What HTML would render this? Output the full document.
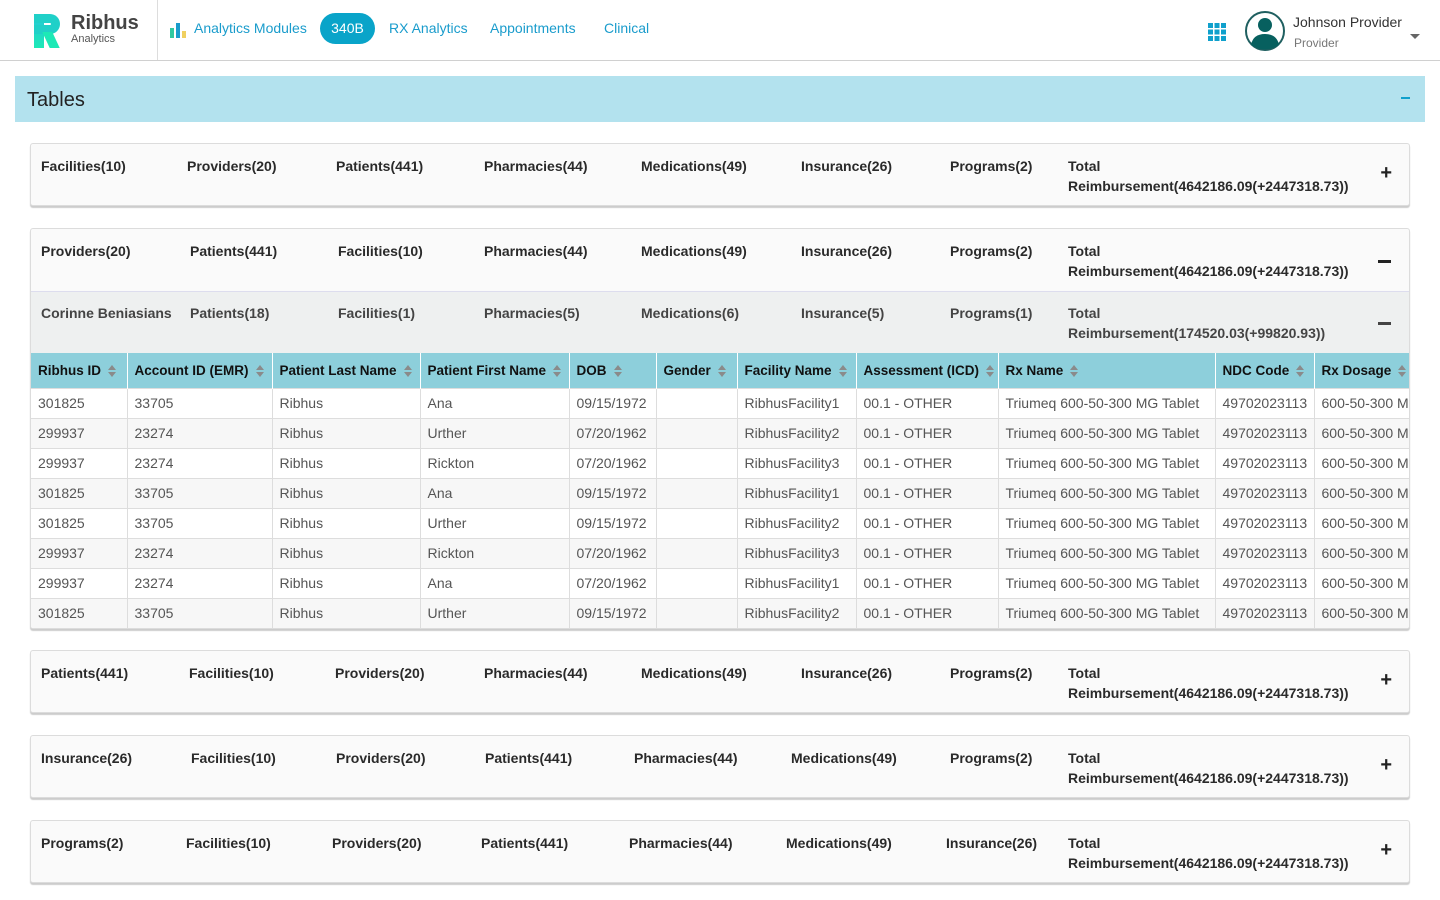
<!DOCTYPE html>
<html><head><meta charset="utf-8"><style>
*{box-sizing:border-box;margin:0;padding:0}
body{width:1440px;height:900px;background:#fff;font-family:"Liberation Sans",sans-serif;position:relative;overflow:hidden;color:#333}
.abs{position:absolute}
.hdr{position:absolute;left:0;top:0;width:1440px;height:61px;border-bottom:1px solid #d0d0d0;background:#fff}
.nav{position:absolute;top:20px;font-size:14px;color:#1a9ccc}
.card{position:absolute;left:30px;width:1380px;background:#fafafa;border:1px solid #dcdcdc;border-radius:3px;box-shadow:0 2px 1px #ccc}
.lb{position:absolute;font-weight:bold;font-size:14px;color:#2a2a2a;line-height:20px;white-space:nowrap}
.pm{position:absolute;right:17px;font-size:20px;font-weight:bold;color:#222}
table{border-collapse:collapse;position:absolute;left:0;top:124px;width:1379px;table-layout:fixed}
th{background:#8dcfdb;height:35px;text-align:left;font-size:13.5px;padding-left:7px;color:#111;border-right:1px solid #fff;white-space:nowrap;overflow:hidden}
th .s{display:inline-block;vertical-align:middle;margin-left:7px;width:9px;height:12px;position:relative}
th .s:before{content:"";position:absolute;left:0;top:0;border:4.5px solid transparent;border-bottom:5px solid #8a8a8a;border-top:none}
th .s:after{content:"";position:absolute;left:0;top:7px;border:4.5px solid transparent;border-top:5px solid #8a8a8a;border-bottom:none}
td{height:30px;font-size:14px;color:#555;padding-left:7px;border-right:1px solid #ddd;border-top:1px solid #ddd;white-space:nowrap;overflow:hidden;background:#fff}
tr.g td{background:#f7f7f7}
</style></head><body>
<div class="hdr">
  <div class="abs" style="left:28px;top:12px;width:40px;height:36px">
    <div class="abs" style="left:6px;top:2px;width:10px;height:34px;background:linear-gradient(#26c6da,#1de9b6)"></div>
    <div class="abs" style="left:6px;top:2px;width:26px;height:20px;border:9px solid #20d0c8;border-left:none;border-radius:0 11px 11px 0"></div>
    <div class="abs" style="left:18px;top:20px;width:10px;height:16px;background:#1de9b6;transform:skewX(25deg)"></div>
  </div>
  <div class="abs" style="left:71px;top:12px;font-size:20px;font-weight:bold;color:#444;line-height:22px">Ribhus</div>
  <div class="abs" style="left:71px;top:33px;font-size:11px;color:#555">Analytics</div>
  <div class="abs" style="left:157px;top:0;width:1px;height:60px;background:#ddd"></div>
  <div class="abs" style="left:170px;top:28px;width:4px;height:10px;background:#30c9a0"></div>
  <div class="abs" style="left:176px;top:23px;width:4px;height:15px;background:#1a9ccc"></div>
  <div class="abs" style="left:182px;top:31px;width:4px;height:7px;background:#f0d060"></div>
  <div class="nav" style="left:194px">Analytics Modules</div>
  <div class="abs" style="left:320px;top:13px;width:55px;height:31px;border-radius:16px;background:#09a4c9;color:#fff;font-size:14px;text-align:center;line-height:31px">340B</div>
  <div class="nav" style="left:389px">RX Analytics</div>
  <div class="nav" style="left:490px">Appointments</div>
  <div class="nav" style="left:604px">Clinical</div>
  <svg class="abs" style="left:1208px;top:23px" width="18" height="18"><g fill="#0fa0cc"><rect x="0" y="0" width="5" height="5"/><rect x="6.5" y="0" width="5" height="5"/><rect x="13" y="0" width="5" height="5"/><rect x="0" y="6.5" width="5" height="5"/><rect x="6.5" y="6.5" width="5" height="5"/><rect x="13" y="6.5" width="5" height="5"/><rect x="0" y="13" width="5" height="5"/><rect x="6.5" y="13" width="5" height="5"/><rect x="13" y="13" width="5" height="5"/></g></svg>
  <svg class="abs" style="left:1245px;top:10px" width="40" height="42"><circle cx="20" cy="21" r="19" fill="#fff" stroke="#1f5f60" stroke-width="2"/><circle cx="20" cy="15" r="7" fill="#07605f"/><path d="M6 35 Q8 24 20 24 Q32 24 34 35 Q20 44 6 35Z" fill="#07605f"/></svg>
  <div class="abs" style="left:1293px;top:14px;font-size:14px;color:#333">Johnson Provider</div>
  <div class="abs" style="left:1294px;top:36px;font-size:12px;color:#777">Provider</div>
  <div class="abs" style="left:1410px;top:34px;border:5px solid transparent;border-top:5px solid #666"></div>
</div>
<div class="abs" style="left:15px;top:76px;width:1410px;height:46px;background:#b3e2ee"></div>
<div class="abs" style="left:27px;top:89px;font-size:20px;color:#222">Tables</div>
<div class="abs" style="left:1401px;top:97px;width:9px;height:2px;background:#0fa0cc"></div>

<div class="card" style="top:143px;height:63px">
  <div class="lb" style="left:10px;top:12px">Facilities(10)</div><div class="lb" style="left:156px;top:12px">Providers(20)</div><div class="lb" style="left:305px;top:12px">Patients(441)</div><div class="lb" style="left:453px;top:12px">Pharmacies(44)</div><div class="lb" style="left:610px;top:12px">Medications(49)</div><div class="lb" style="left:770px;top:12px">Insurance(26)</div><div class="lb" style="left:919px;top:12px">Programs(2)</div><div class="lb" style="left:1037px;top:12px">Total<br>Reimbursement(4642186.09(+2447318.73))</div><div class="pm" style="top:18px">+</div>
</div>

<div class="card" style="top:228px;height:401px;overflow:hidden">
  <div class="lb" style="left:10px;top:12px">Providers(20)</div><div class="lb" style="left:159px;top:12px">Patients(441)</div><div class="lb" style="left:307px;top:12px">Facilities(10)</div><div class="lb" style="left:453px;top:12px">Pharmacies(44)</div><div class="lb" style="left:610px;top:12px">Medications(49)</div><div class="lb" style="left:770px;top:12px">Insurance(26)</div><div class="lb" style="left:919px;top:12px">Programs(2)</div><div class="lb" style="left:1037px;top:12px">Total<br>Reimbursement(4642186.09(+2447318.73))</div><div class="abs" style="right:18px;top:31px;width:13px;height:3px;background:#222"></div>
  <div class="abs" style="left:0;top:62px;width:1380px;height:62px;background:#eef0f0;border-top:1px solid #dde"></div>
  <div class="lb" style="left:10px;top:74px;color:#444">Corinne Beniasians</div><div class="lb" style="left:159px;top:74px;color:#444">Patients(18)</div><div class="lb" style="left:307px;top:74px;color:#444">Facilities(1)</div><div class="lb" style="left:453px;top:74px;color:#444">Pharmacies(5)</div><div class="lb" style="left:610px;top:74px;color:#444">Medications(6)</div><div class="lb" style="left:770px;top:74px;color:#444">Insurance(5)</div><div class="lb" style="left:919px;top:74px;color:#444">Programs(1)</div><div class="lb" style="left:1037px;top:74px;color:#444">Total<br>Reimbursement(174520.03(+99820.93))</div><div class="abs" style="right:18px;top:93px;width:13px;height:3px;background:#444"></div>
  <table>
   <colgroup><col style="width:96px"><col style="width:145px"><col style="width:148px"><col style="width:149px"><col style="width:87px"><col style="width:81px"><col style="width:119px"><col style="width:142px"><col style="width:217px"><col style="width:99px"><col style="width:96px"></colgroup>
   <thead><tr><th>Ribhus ID<span class="s"></span></th><th>Account ID (EMR)<span class="s"></span></th><th>Patient Last Name<span class="s"></span></th><th>Patient First Name<span class="s"></span></th><th>DOB<span class="s"></span></th><th>Gender<span class="s"></span></th><th>Facility Name<span class="s"></span></th><th>Assessment (ICD)<span class="s"></span></th><th>Rx Name<span class="s"></span></th><th>NDC Code<span class="s"></span></th><th>Rx Dosage<span class="s"></span></th></tr></thead>
   <tbody>
   <tr><td>301825</td><td>33705</td><td>Ribhus</td><td>Ana</td><td>09/15/1972</td><td></td><td>RibhusFacility1</td><td>00.1 - OTHER</td><td>Triumeq 600-50-300 MG Tablet</td><td>49702023113</td><td>600-50-300 MG</td></tr>
   <tr class="g"><td>299937</td><td>23274</td><td>Ribhus</td><td>Urther</td><td>07/20/1962</td><td></td><td>RibhusFacility2</td><td>00.1 - OTHER</td><td>Triumeq 600-50-300 MG Tablet</td><td>49702023113</td><td>600-50-300 MG</td></tr>
   <tr><td>299937</td><td>23274</td><td>Ribhus</td><td>Rickton</td><td>07/20/1962</td><td></td><td>RibhusFacility3</td><td>00.1 - OTHER</td><td>Triumeq 600-50-300 MG Tablet</td><td>49702023113</td><td>600-50-300 MG</td></tr>
   <tr class="g"><td>301825</td><td>33705</td><td>Ribhus</td><td>Ana</td><td>09/15/1972</td><td></td><td>RibhusFacility1</td><td>00.1 - OTHER</td><td>Triumeq 600-50-300 MG Tablet</td><td>49702023113</td><td>600-50-300 MG</td></tr>
   <tr><td>301825</td><td>33705</td><td>Ribhus</td><td>Urther</td><td>09/15/1972</td><td></td><td>RibhusFacility2</td><td>00.1 - OTHER</td><td>Triumeq 600-50-300 MG Tablet</td><td>49702023113</td><td>600-50-300 MG</td></tr>
   <tr class="g"><td>299937</td><td>23274</td><td>Ribhus</td><td>Rickton</td><td>07/20/1962</td><td></td><td>RibhusFacility3</td><td>00.1 - OTHER</td><td>Triumeq 600-50-300 MG Tablet</td><td>49702023113</td><td>600-50-300 MG</td></tr>
   <tr><td>299937</td><td>23274</td><td>Ribhus</td><td>Ana</td><td>07/20/1962</td><td></td><td>RibhusFacility1</td><td>00.1 - OTHER</td><td>Triumeq 600-50-300 MG Tablet</td><td>49702023113</td><td>600-50-300 MG</td></tr>
   <tr class="g"><td>301825</td><td>33705</td><td>Ribhus</td><td>Urther</td><td>09/15/1972</td><td></td><td>RibhusFacility2</td><td>00.1 - OTHER</td><td>Triumeq 600-50-300 MG Tablet</td><td>49702023113</td><td>600-50-300 MG</td></tr>
   </tbody>
  </table>
</div>

<div class="card" style="top:650px;height:63px">
  <div class="lb" style="left:10px;top:12px">Patients(441)</div><div class="lb" style="left:158px;top:12px">Facilities(10)</div><div class="lb" style="left:304px;top:12px">Providers(20)</div><div class="lb" style="left:453px;top:12px">Pharmacies(44)</div><div class="lb" style="left:610px;top:12px">Medications(49)</div><div class="lb" style="left:770px;top:12px">Insurance(26)</div><div class="lb" style="left:919px;top:12px">Programs(2)</div><div class="lb" style="left:1037px;top:12px">Total<br>Reimbursement(4642186.09(+2447318.73))</div><div class="pm" style="top:18px">+</div>
</div>
<div class="card" style="top:735px;height:63px">
  <div class="lb" style="left:10px;top:12px">Insurance(26)</div><div class="lb" style="left:160px;top:12px">Facilities(10)</div><div class="lb" style="left:305px;top:12px">Providers(20)</div><div class="lb" style="left:454px;top:12px">Patients(441)</div><div class="lb" style="left:603px;top:12px">Pharmacies(44)</div><div class="lb" style="left:760px;top:12px">Medications(49)</div><div class="lb" style="left:919px;top:12px">Programs(2)</div><div class="lb" style="left:1037px;top:12px">Total<br>Reimbursement(4642186.09(+2447318.73))</div><div class="pm" style="top:18px">+</div>
</div>
<div class="card" style="top:820px;height:63px">
  <div class="lb" style="left:10px;top:12px">Programs(2)</div><div class="lb" style="left:155px;top:12px">Facilities(10)</div><div class="lb" style="left:301px;top:12px">Providers(20)</div><div class="lb" style="left:450px;top:12px">Patients(441)</div><div class="lb" style="left:598px;top:12px">Pharmacies(44)</div><div class="lb" style="left:755px;top:12px">Medications(49)</div><div class="lb" style="left:915px;top:12px">Insurance(26)</div><div class="lb" style="left:1037px;top:12px">Total<br>Reimbursement(4642186.09(+2447318.73))</div><div class="pm" style="top:18px">+</div>
</div>
</body></html>
